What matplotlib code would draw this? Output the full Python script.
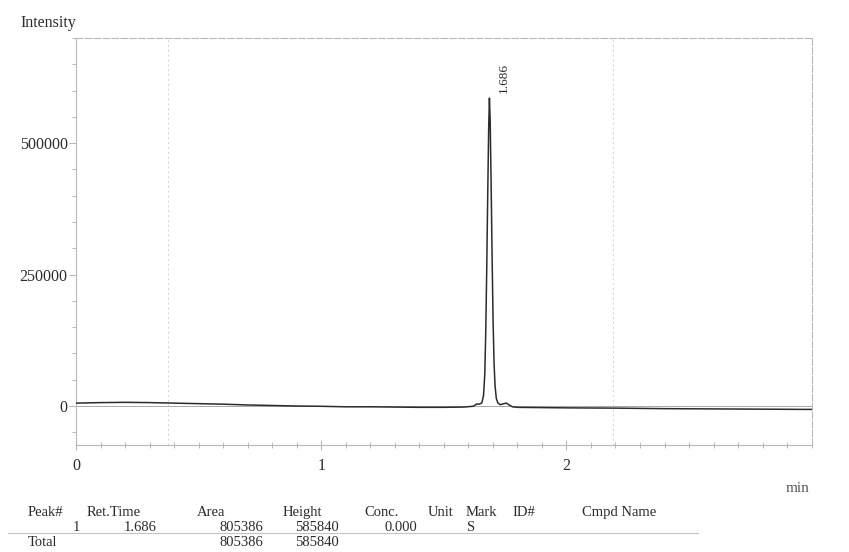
import numpy as np
import matplotlib.pyplot as plt
from matplotlib.ticker import MultipleLocator

plt.rcParams['font.family'] = ['Liberation Serif', 'DejaVu Serif']

# chromatogram trace (time in min, detector intensity)
time_min = [0.00, 0.10, 0.20, 0.30, 0.40, 0.50, 0.60, 0.70, 0.80, 0.90,
            1.00, 1.10, 1.20, 1.30, 1.40, 1.50, 1.58, 1.62, 1.635, 1.645,
            1.655, 1.662, 1.667, 1.671, 1.675, 1.679, 1.683, 1.686, 1.689,
            1.693, 1.697, 1.701, 1.705, 1.709, 1.714, 1.720, 1.730, 1.745,
            1.755, 1.765, 1.780, 1.80, 1.90, 2.00, 2.20, 2.40, 2.60, 2.80, 3.00]
intensity = [5500, 6500, 7000, 6500, 5500, 4500, 3500, 2000, 1000, 0,
             -500, -1500, -1500, -2000, -2500, -2500, -2000, -500, 4000, 3500,
             6000, 20000, 60000, 140000, 260000, 400000, 530000, 585840, 545000,
             420000, 280000, 160000, 80000, 38000, 15000, 6000, 2500, 4500,
             5500, 2500, -1500, -2500, -3000, -3500, -4000, -5000, -5500, -6000, -6500]

peak_time = 1.686
peak_label = '1.686'

# peak table
col_heads = ['Peak#', 'Ret.Time', 'Area', 'Height', 'Conc.', 'Unit', 'Mark', 'ID#', 'Cmpd Name']
row_1 = ['1', '1.686', '805386', '585840', '0.000', 'S']
row_total = ['Total', '805386', '585840']

ink = '#2b2b2b'
frame = '#b8b8b8'

fig = plt.figure(figsize=(8.49, 5.52), dpi=100)
ax = fig.add_axes([0.0895, 0.194, 0.8665, 0.737])

ax.plot(time_min, intensity, color=ink, lw=1.1, zorder=3)
ax.axhline(0, color='#9a9a9a', lw=0.6, zorder=2)

# faint vertical guides
for xv in [0.375, 2.19]:
    ax.axvline(xv, color='#d2d2d2', lw=0.7, ls=(0, (2, 3)), zorder=1)

ax.set_xlim(0, 3.0)
ax.set_ylim(-74000, 700000)

ax.set_yticks([0, 250000, 500000])
ax.set_yticklabels(['0', '250000', '500000'])
ax.yaxis.set_minor_locator(MultipleLocator(50000))
ax.set_xticks([0, 1, 2])
ax.xaxis.set_minor_locator(MultipleLocator(0.1))

for s in ax.spines.values():
    s.set_color(frame)
    s.set_linewidth(0.8)
ax.spines['top'].set_linestyle((0, (6, 2)))
ax.spines['right'].set_linestyle((0, (6, 2)))

ax.tick_params(axis='y', which='major', direction='out', length=5, width=0.8,
               color=frame, labelsize=11.5, labelcolor=ink, pad=1)
ax.tick_params(axis='y', which='minor', direction='out', length=3, width=0.7, color=frame)
ax.tick_params(axis='x', which='major', direction='inout', length=7, width=0.8,
               color=frame, labelsize=11.5, labelcolor=ink, pad=6)
ax.tick_params(axis='x', which='minor', direction='inout', length=4, width=0.7, color=frame)

ax.annotate(peak_label, xy=(peak_time, max(intensity)), xytext=(6, 4),
            textcoords='offset points', rotation=90, fontsize=9.5, color=ink,
            ha='left', va='bottom')

W, H = 849, 552
fig.text(20 / W, 1 - 23 / H, 'Intensity', fontsize=11.5, color=ink, va='center')
fig.text(810 / W, 1 - 489 / H, 'min', fontsize=11, color='#555555', ha='right', va='center')

# peak table below the plot
fs = 10.5
head_x = [28, 87, 197, 283, 364, 428, 466, 512, 582]
for x, t in zip(head_x, col_heads):
    fig.text(x / W, 1 - 519 / H, t, fontsize=fs, color=ink, va='bottom')

row_x = [80, 157, 263, 339, 417, 467]
row_ha = ['right', 'right', 'right', 'right', 'right', 'left']
for x, t, ha in zip(row_x, row_1, row_ha):
    fig.text(x / W, 1 - 531 / H, t, fontsize=fs, color=ink, ha=ha, va='baseline')

fig.text(28 / W, 1 - 546 / H, row_total[0], fontsize=fs, color=ink, va='baseline')
fig.text(263 / W, 1 - 546 / H, row_total[1], fontsize=fs, color=ink, ha='right', va='baseline')
fig.text(339 / W, 1 - 546 / H, row_total[2], fontsize=fs, color=ink, ha='right', va='baseline')

fig.add_artist(plt.Line2D([8 / W, 698 / W], [1 - 533 / H, 1 - 533 / H],
                          color='#c4c4c4', lw=0.8, transform=fig.transFigure))

fig.savefig('out.png', dpi=100, facecolor='white')
